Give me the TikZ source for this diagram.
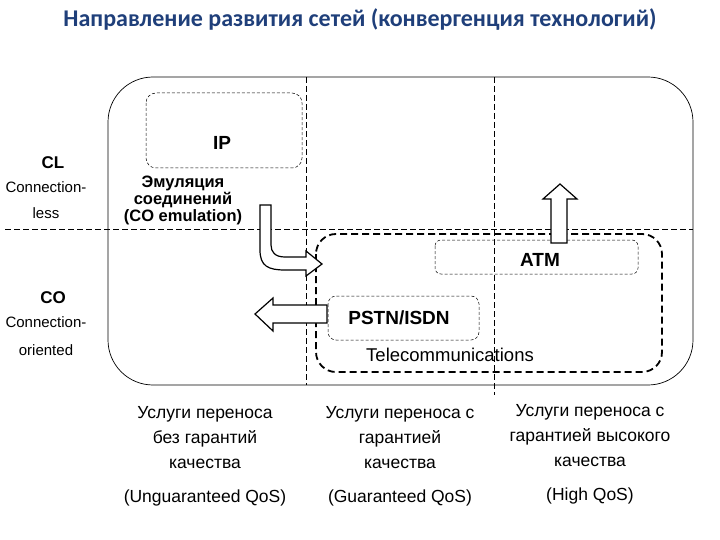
\documentclass[tikz,border=0pt]{standalone}
\usepackage{fontspec}
\setmainfont{Liberation Sans}
\newfontfamily\titlefont{Carlito}
\definecolor{ttl}{HTML}{1F3F7A}
\begin{document}
\begin{tikzpicture}[x=1pt,y=-1pt,
  txt/.style={font=\fontsize{15}{26}\selectfont,align=center,inner sep=0},
  btxt/.style={txt,font=\fontsize{19}{21}\selectfont\bfseries},
  thin dash/.style={dash pattern=on 3pt off 2pt,line width=0.5pt},
  arr/.style={line width=1.2pt,fill=white,line join=miter}]
\useasboundingbox (0,0) rectangle (720,540);
\node[font=\titlefont\fontsize{24}{28}\selectfont\bfseries,text=ttl] (title) at (360,20) {Направление развития сетей (конвергенция технологий)};
\draw[line width=0.7pt,rounded corners=45pt] (108,77) rectangle (693,385);
\draw[dash pattern=on 6pt off 3pt,line width=0.5pt] (5,229) -- (693,229);
\draw[dash pattern=on 6pt off 3pt,line width=0.5pt] (306,77) -- (306,385);
\draw[dash pattern=on 6pt off 3pt,line width=0.5pt] (494,77) -- (494,395);
\draw[thin dash,rounded corners=10pt] (146,93) rectangle (302,168);
\node[btxt] (ip) at (222,143) {IP};
\node[txt,font=\fontsize{16.5}{17}\selectfont\bfseries] (emu) at (183,200) {Эмуляция\\соединений\\(CO emulation)};
\draw[dash pattern=on 7pt off 4pt,line width=1.8pt,rounded corners=20pt] (316,234) rectangle (662,372);
\draw[thin dash,rounded corners=6pt] (435,240) rectangle (638,274);
\node[btxt] (atm) at (540,260) {ATM};
\draw[thin dash,rounded corners=8pt] (328,296) rectangle (479,340);
\node[btxt] (pstn) at (399,318) {PSTN/ISDN};
\node[txt,font=\fontsize{18.5}{20}\selectfont] (tel) at (450,355) {Telecommunications};
% arrows
\draw[arr] (260,205) -- (260,250) .. controls (260,266) and (268,270) .. (285,270) -- (306,270) -- (306,276) -- (322,264) -- (306,251) -- (306,257) -- (285,257) .. controls (275,257) and (271,252) .. (271,245) -- (271,205) -- cycle;
\draw[arr] (551,243) -- (551,199) -- (543,199) -- (560,184) -- (577,199) -- (567,199) -- (567,243) -- cycle;
\draw[arr] (327,305) -- (273,305) -- (273,298) -- (255,314) -- (273,331) -- (273,323) -- (327,323) -- cycle;
% left labels
\node[btxt,font=\fontsize{17}{20}\selectfont\bfseries] (cl) at (53,163) {CL};
\node[txt,font=\fontsize{15}{26}\selectfont] (cll) at (46,200) {Connection-\\less};
\node[btxt,font=\fontsize{17}{20}\selectfont\bfseries] (co) at (53,298) {CO};
\node[txt,font=\fontsize{15}{28}\selectfont] (col) at (46,336) {Connection-\\oriented};
% bottom
\node[txt,font=\fontsize{17.5}{25}\selectfont] (b1) at (205,438) {Услуги переноса\\без гарантий\\качества};
\node[txt,font=\fontsize{17.5}{25}\selectfont] (b2) at (400,438) {Услуги переноса с\\гарантией\\качества};
\node[txt,font=\fontsize{17.5}{25}\selectfont] (b3) at (590,436) {Услуги переноса с\\гарантией высокого\\качества};
\node[txt,font=\fontsize{17.5}{20}\selectfont] (q1) at (205,498) {(Unguaranteed QoS)};
\node[txt,font=\fontsize{17.5}{20}\selectfont] (q2) at (400,498) {(Guaranteed QoS)};
\node[txt,font=\fontsize{17.5}{20}\selectfont] (q3) at (590,496) {(High QoS)};
\end{tikzpicture}
\end{document}
